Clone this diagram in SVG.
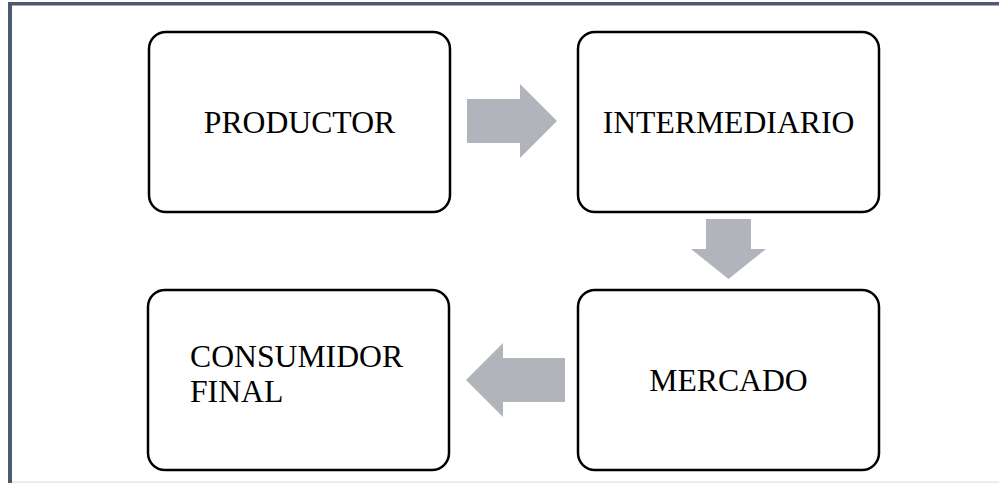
<svg xmlns="http://www.w3.org/2000/svg" width="999" height="483" viewBox="0 0 999 483">
<style>
.box{fill:#fff;stroke:#000;stroke-width:2.5}
.t{font-family:"Liberation Serif","Times New Roman",serif;font-size:31.7px;fill:#000}
.arr{fill:#b1b4ba}
</style>
<rect width="999" height="483" fill="#fff"/>
<rect x="8" y="2" width="991" height="3.5" fill="#4b5a71"/>
<rect x="8" y="2" width="4" height="481" fill="#4b5a71"/>
<rect x="12" y="481.5" width="987" height="1.5" fill="#e6e6e6"/>
<g id="n1"><rect class="box" x="149" y="32" width="301" height="180" rx="17"/><text class="t" x="299.5" y="133" text-anchor="middle">PRODUCTOR</text></g>
<g id="n2"><rect class="box" x="578" y="32" width="301" height="180" rx="17"/><text class="t" x="728.5" y="133" text-anchor="middle">INTERMEDIARIO</text></g>
<g id="n3"><rect class="box" x="148" y="290" width="301" height="180" rx="17"/><text class="t" x="190" y="367">CONSUMIDOR</text><text class="t" x="190" y="402">FINAL</text></g>
<g id="n4"><rect class="box" x="578" y="290" width="301" height="180" rx="17"/><text class="t" x="728.5" y="391" text-anchor="middle">MERCADO</text></g>
<g id="connectors">
<polygon class="arr" points="467,99 520,99 520,84 557,121 520,158 520,143 467,143"/>
<polygon class="arr" points="706,219 751,219 751,249 766,249 728.5,279 691,249 706,249"/>
<polygon class="arr" points="565,358 503,358 503,343 466,380 503,417 503,402 565,402"/>
</g>
</svg>
